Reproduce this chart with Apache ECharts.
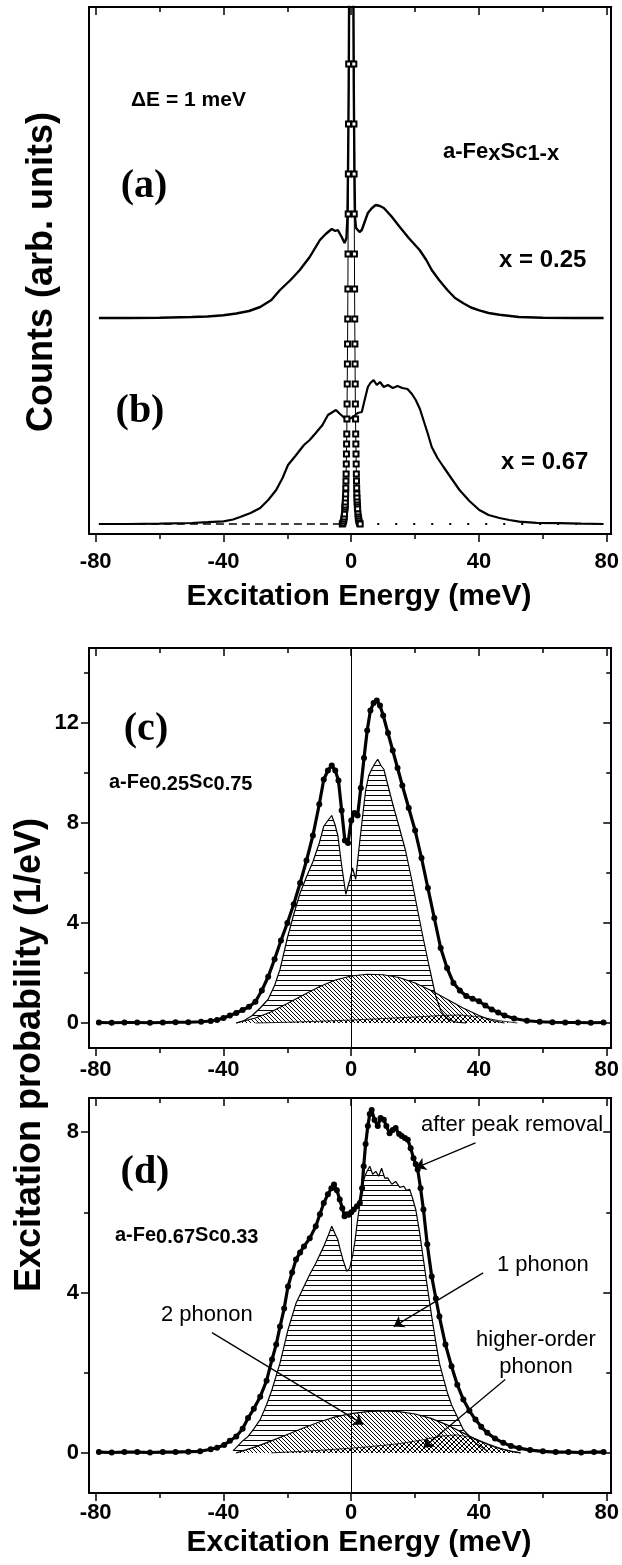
<!DOCTYPE html>
<html><head><meta charset="utf-8">
<script src="https://cdn.jsdelivr.net/npm/echarts@6/dist/echarts.min.js"></script>
<style>html,body{margin:0;padding:0;background:#fff}#c{width:622px;height:1565px}</style>
</head><body><div id="c"></div>
<script>
// ---------- tick values ----------
const xMajorTicks = [-80, -40, 0, 40, 80];
const xMinorTicks = [-60, -20, 20, 60];
const cMajorTicks = [0, 4, 8, 12];
const cMinorTicks = [2, 6, 10, 14];
const dMajorTicks = [0, 4, 8];
const dMinorTicks = [2, 6];

// ---------- panel (a)/(b): counts, arbitrary units ----------
const aE = [-79,-70,-60,-50,-45,-40,-36,-32,-28.5,-25,-22.3,-19,-16.1,-13,-9.8,-8,-6.1,-5,-4.2,-3,-2.1,-1.5,-1.2,-1,-0.8,-0.6,-0.45,0,0.45,0.6,0.8,1,1.2,1.5,2,2.6,3.3,4.2,5.2,6.5,7.7,9,10.2,12.5,15.2,18,21.4,23.5,25.2,27.5,30.1,32.5,35.1,37.5,40.1,43,46.4,52.5,60,70,79];
const aCounts = [0,0,0.003,0.01,0.015,0.027,0.045,0.07,0.11,0.18,0.28,0.38,0.48,0.61,0.78,0.84,0.89,0.87,0.88,0.81,0.75,0.8,1.0,1.5,2.3,3.6,8,14,8,3.6,2.3,1.5,1.0,0.9,0.88,0.86,0.88,0.96,1.05,1.1,1.13,1.12,1.1,1.02,0.91,0.8,0.68,0.58,0.48,0.38,0.28,0.2,0.147,0.105,0.077,0.05,0.033,0.01,0.003,0,0];
const bE = [-79,-70,-60,-50,-45,-40,-37,-34.8,-31.5,-28.5,-26,-23.5,-21.5,-19.8,-17.5,-14.8,-13,-11.1,-9,-7.3,-5.8,-4.8,-3.5,-2.1,-1,0,1,2,3.3,4.2,5.2,6,7,8,9,10.2,11.5,13,14.5,16,17.6,19,20.2,21.5,22.6,24,25.2,27,28.9,31.5,33.9,37,40.1,43,46.4,49.5,52.6,58,65,72,79];
const bCounts = [0,0,0.003,0.01,0.018,0.027,0.045,0.07,0.11,0.16,0.24,0.34,0.46,0.59,0.68,0.79,0.84,0.91,0.99,1.09,1.12,1.14,1.1,1.06,1.05,1.06,1.08,1.11,1.12,1.24,1.37,1.41,1.44,1.39,1.42,1.37,1.39,1.36,1.38,1.36,1.35,1.3,1.24,1.15,1.04,0.9,0.77,0.66,0.57,0.45,0.34,0.23,0.14,0.09,0.06,0.04,0.023,0.012,0.008,0.003,0];
// measured resolution (elastic) line, open squares
const resE = [-2.8,-2.6,-2.4,-2.3,-2.2,-2.1,-2.0,-1.95,-1.9,-1.85,-1.8,-1.75,-1.7,-1.65,-1.6,-1.55,-1.5,-1.45,-1.4,-1.35,-1.3,-1.25,-1.2,-1.15,-1.1,-1.05,-1.0,-0.95,-0.9,-0.85,-0.8,-0.75,-0.7,-0.6,-0.5,0,0.5,0.6,0.7,0.75,0.8,0.85,0.9,0.95,1.0,1.05,1.1,1.15,1.2,1.25,1.3,1.35,1.4,1.45,1.5,1.55,1.6,1.65,1.7,1.75,1.8,1.85,1.9,1.95,2.0,2.1,2.2,2.3,2.4,2.6,2.8];
const resCounts = [0,0.01,0.03,0.05,0.07,0.1,0.15,0.17,0.19,0.22,0.26,0.3,0.36,0.43,0.5,0.6,0.7,0.8,0.9,1.05,1.2,1.4,1.6,1.8,2.05,2.35,2.7,3.1,3.5,4.0,4.6,5.2,5.9,6.8,7.6,9.8,7.6,6.8,5.9,5.2,4.6,4.0,3.5,3.1,2.7,2.35,2.05,1.8,1.6,1.4,1.2,1.05,0.9,0.8,0.7,0.6,0.5,0.43,0.36,0.3,0.26,0.22,0.19,0.17,0.15,0.1,0.07,0.05,0.03,0.01,0];
const baseDashE = [-79, -2.5];
const baseDotE = [2.5, 79];
const baseLevel = [0, 0];
const offsetA = 2.06; // vertical shift of spectrum (a)

// ---------- panel (c): a-Fe0.25Sc0.75 ----------
const cDotE = [-79,-75,-71,-67,-63,-59,-55,-51,-47,-44,-42,-40,-38,-36,-34,-32,-30,-28,-26,-24,-22,-20,-18,-16,-14,-12,-10,-8.6,-7.3,-6.1,-5,-4,-3,-2,-1,0,1,2,3,4,5,6,7,8,9,10,11.5,13,14.5,16,18,20,22,24,26,28,30,32,34,36,38,40,42,44,46,48,51,55,59,63,67,71,75,79];
const cDotP = [0.02,0.01,0.02,0.02,0.01,0.02,0.03,0.03,0.05,0.08,0.12,0.2,0.3,0.4,0.52,0.65,0.85,1.3,1.85,2.55,3.3,4.0,4.75,5.6,6.5,7.5,8.75,9.74,10.1,10.3,10.1,9.7,8.5,7.3,7.2,8.1,8.4,8.3,9.4,10.6,11.7,12.5,12.8,12.9,12.7,12.3,11.6,10.9,10.2,9.5,8.6,7.7,6.6,5.4,4.2,3.0,2.2,1.6,1.3,1.08,0.97,0.87,0.7,0.54,0.42,0.3,0.18,0.09,0.05,0.03,0.02,0.02,0.01,0.02];
const c1E = [-36,-33.5,-31,-28.5,-26,-24,-22.3,-20,-18,-16,-14,-12,-10,-8.6,-7.3,-6.1,-5,-4.2,-3,-1.7,-0.4,0.4,1.4,2.7,3.5,4.5,5.5,6.4,7.5,8.3,9.3,10.2,11.5,12.7,14,15.2,17,18.9,20.8,22.6,24.5,26.4,28,29.5,31,33,36];
const c1P = [0,0.1,0.3,0.6,0.95,1.5,2.14,3.4,4.35,5.2,5.85,6.45,7.2,7.87,8.1,8.3,7.9,7.5,6.3,5.15,5.75,6.2,5.75,7.3,8.2,9.3,9.9,10.15,10.4,10.55,10.3,10.15,9.5,8.9,8.3,7.75,6.9,5.75,4.5,3.35,2.2,1.1,0.5,0.25,0.1,0.03,0];
const c2E = [-36,-30,-25,-20,-15,-10,-5,0,5,10,15,20,25,30,35,40,44,48];
const c2P = [0,0.2,0.45,0.78,1.12,1.45,1.72,1.88,1.95,1.93,1.82,1.6,1.3,0.95,0.6,0.3,0.1,0];
const c3E = [-30,-20,-10,0,10,20,28,34,40,46,52];
const c3P = [0,0.03,0.07,0.12,0.18,0.24,0.3,0.32,0.25,0.1,0];

// ---------- panel (d): a-Fe0.67Sc0.33 ----------
const dDotE = [-79,-75,-71,-67,-63,-59,-55,-51,-47.3,-44,-42,-39.8,-38,-36,-34,-32.3,-30.5,-28.5,-26.5,-24.8,-23.5,-22.3,-21,-19.8,-18.5,-17.3,-16,-14.8,-13,-11.1,-9.8,-8.6,-7.3,-6.2,-5.4,-4.5,-3.6,-2.8,-2.1,-1.4,-0.8,0,0.8,1.8,2.7,3.4,3.9,4.5,5.2,5.8,6.4,7.3,8.3,9.2,10.2,11,12,13,13.9,15,15.8,16.8,17.7,18.6,19.5,20.2,20.8,21.7,22.6,23.8,25.2,26.5,27.6,29.5,31.4,33.2,35.1,37,38.9,40.7,42.6,45,47.6,50,52.6,56,60,64,68,72,76,79];
const dDotP = [0.02,0.01,0.02,0.02,0.01,0.02,0.02,0.03,0.04,0.09,0.13,0.2,0.3,0.41,0.6,0.87,1.1,1.4,1.8,2.33,2.7,3.15,3.6,4.15,4.5,4.82,5.0,5.15,5.35,5.65,5.95,6.23,6.45,6.6,6.69,6.55,6.32,6.1,5.9,5.95,5.94,6.0,6.07,6.15,6.23,6.6,7.15,7.7,8.15,8.45,8.55,8.3,8.15,8.35,8.31,8.15,7.97,8.05,8.1,7.95,7.9,7.85,7.81,7.6,7.35,7.2,7.07,6.6,6.07,5.2,4.4,3.85,3.4,2.7,2.16,1.7,1.33,1.05,0.83,0.65,0.5,0.36,0.25,0.17,0.12,0.07,0.04,0.02,0.02,0.01,0.02,0.02];
const d1E = [-37,-34,-32.3,-30.5,-28.5,-26.5,-24.8,-22.3,-19.8,-17.3,-14.8,-13,-11.1,-8.6,-7.3,-6.1,-5,-4.2,-3.4,-2.6,-1.4,-0.5,0.5,1.2,2,3,3.9,4.8,5.8,6.7,7.7,8.6,9.5,10.5,11.4,12.7,13.9,15.2,16.4,17.3,18.3,19.2,20.2,21.4,22.6,23.9,25.2,26.4,27.6,28.9,30.1,31.4,32.6,35.1,38.9,42.6];
const d1P = [0.05,0.3,0.41,0.6,0.83,1.2,1.58,2.24,3.07,3.73,4.15,4.45,4.73,5.15,5.4,5.65,5.45,5.32,5.05,4.82,4.53,4.6,4.95,5.3,5.82,6.35,6.82,7.0,7.15,6.95,7.02,6.9,7.1,6.85,6.86,6.7,6.77,6.62,6.65,6.55,6.57,6.35,6.07,5.5,4.82,4.1,3.4,2.8,2.24,1.85,1.5,1.2,1.0,0.58,0.25,0.05];
const d2E = [-36,-30,-25,-20,-15,-10,-5,0,5,10,15,20,25,30,35,40,45,50,53];
const d2P = [0,0.15,0.3,0.46,0.62,0.77,0.9,0.98,1.03,1.05,1.03,0.97,0.86,0.7,0.5,0.3,0.14,0.04,0];
const d3E = [-25,-15,-5,5,15,22,28,33,38,43,48,53];
const d3P = [0,0.04,0.09,0.15,0.23,0.32,0.42,0.45,0.38,0.22,0.08,0];
// annotation arrows in panel (d): [start, end] in (meV, 1/eV)
const arrowsD = [
  [[38.9, 7.73], [20.2, 7.11]],
  [[41.3, 4.49], [13.3, 3.15]],
  [[-43.6, 3.0], [3.8, 0.71]],
  [[48.2, 1.83], [22.6, 0.13]]
];

// ---------- styling ----------
const SANS = "'Liberation Sans', Arial, Helvetica, sans-serif";
const SERIF = "'Liberation Serif', 'Times New Roman', serif";
const BLACK = '#000';
const FRAME = 2;
const xMin = -82.1, xMax = 81.4;

function pattern(w, h, bg, draw) {
  const cv = document.createElement('canvas');
  cv.width = w; cv.height = h;
  const ctx = cv.getContext('2d');
  if (bg) { ctx.fillStyle = bg; ctx.fillRect(0, 0, w, h); }
  ctx.fillStyle = '#000';
  draw(ctx);
  return { image: cv, repeat: 'repeat' };
}
const hLines = pattern(4, 5, null, c => c.fillRect(0, 0, 4, 1));
const diagBack = pattern(4, 4, '#fff', c => { for (let i = 0; i < 4; i++) c.fillRect(i, i, 1, 1); });
const diagFwd = pattern(6, 6, null, c => { for (let i = 0; i < 6; i++) c.fillRect(5 - i, i, 1, 1); });

const grids = [
  { left: 89, top: 7, width: 527, height: 527 },
  { left: 89, top: 648, width: 527, height: 400 },
  { left: 89, top: 1098, width: 527, height: 395 }
];
const labelMargins = [17, 11, 9];

const xAxis = [];
grids.forEach((g, gi) => {
  const base = { type: 'value', gridIndex: gi, min: xMin, max: xMax, splitLine: { show: false } };
  xAxis.push(Object.assign({}, base, {
    position: 'bottom',
    axisLine: { show: true, onZero: false, lineStyle: { color: BLACK, width: FRAME } },
    axisTick: { show: true, inside: false, length: 8, customValues: xMajorTicks, lineStyle: { color: BLACK, width: 1.5 } },
    axisLabel: { show: true, customValues: xMajorTicks, margin: labelMargins[gi], color: BLACK, fontFamily: SANS, fontWeight: 'bold', fontSize: 22 }
  }));
  xAxis.push(Object.assign({}, base, {
    position: 'bottom',
    axisLine: { show: false, onZero: false },
    axisTick: { show: true, inside: false, length: 5, customValues: xMinorTicks, lineStyle: { color: BLACK, width: 1.5 } },
    axisLabel: { show: false }
  }));
  xAxis.push(Object.assign({}, base, {
    position: 'top',
    axisLine: { show: true, onZero: false, lineStyle: { color: BLACK, width: FRAME } },
    axisTick: { show: true, inside: true, length: 8, customValues: xMajorTicks, lineStyle: { color: BLACK, width: 1.5 } },
    axisLabel: { show: false }
  }));
  xAxis.push(Object.assign({}, base, {
    position: 'top',
    axisLine: { show: false, onZero: false },
    axisTick: { show: true, inside: true, length: 5, customValues: xMinorTicks, lineStyle: { color: BLACK, width: 1.5 } },
    axisLabel: { show: false }
  }));
});

const yRanges = [[-0.1, 5.17], [-1, 15], [-1, 8.85]];
const yMajor = [null, cMajorTicks, dMajorTicks];
const yMinor = [null, cMinorTicks, dMinorTicks];
const yAxis = [];
const yIndex = [];
grids.forEach((g, gi) => {
  const base = { type: 'value', gridIndex: gi, min: yRanges[gi][0], max: yRanges[gi][1], splitLine: { show: false } };
  yIndex.push(yAxis.length);
  if (gi === 0) {
    yAxis.push(Object.assign({}, base, { position: 'left', axisLine: { show: true, onZero: false, lineStyle: { color: BLACK, width: FRAME } }, axisTick: { show: false }, axisLabel: { show: false } }));
    yAxis.push(Object.assign({}, base, { position: 'right', axisLine: { show: true, onZero: false, lineStyle: { color: BLACK, width: FRAME } }, axisTick: { show: false }, axisLabel: { show: false } }));
    return;
  }
  yAxis.push(Object.assign({}, base, {
    position: 'left',
    axisLine: { show: true, onZero: false, lineStyle: { color: BLACK, width: FRAME } },
    axisTick: { show: true, inside: false, length: 8, customValues: yMajor[gi], lineStyle: { color: BLACK, width: 1.5 } },
    axisLabel: { show: true, customValues: yMajor[gi], margin: 10, color: BLACK, fontFamily: SANS, fontWeight: 'bold', fontSize: 22 }
  }));
  yAxis.push(Object.assign({}, base, {
    position: 'left',
    axisLine: { show: false, onZero: false },
    axisTick: { show: true, inside: false, length: 5, customValues: yMinor[gi], lineStyle: { color: BLACK, width: 1.5 } },
    axisLabel: { show: false }
  }));
  yAxis.push(Object.assign({}, base, {
    position: 'right',
    axisLine: { show: true, onZero: false, lineStyle: { color: BLACK, width: FRAME } },
    axisTick: { show: true, inside: true, length: 8, customValues: yMajor[gi], lineStyle: { color: BLACK, width: 1.5 } },
    axisLabel: { show: false }
  }));
  yAxis.push(Object.assign({}, base, {
    position: 'right',
    axisLine: { show: false, onZero: false },
    axisTick: { show: true, inside: true, length: 5, customValues: yMinor[gi], lineStyle: { color: BLACK, width: 1.5 } },
    axisLabel: { show: false }
  }));
});

function pairs(xs, ys, off) { off = off || 0; return xs.map((x, i) => [x, ys[i] + off]); }
function line(gi, xs, ys, opt) {
  return Object.assign({
    type: 'line', xAxisIndex: gi * 4, yAxisIndex: yIndex[gi], data: pairs(xs, ys, opt && opt.off),
    showSymbol: false, symbol: 'none', silent: true, animation: false,
    lineStyle: { color: BLACK, width: 1.2 }, itemStyle: { color: BLACK }
  }, opt || {});
}
const vLine = { silent: true, animation: false, symbol: ['none', 'none'], label: { show: false },
  lineStyle: { color: BLACK, width: 1, type: 'solid' }, data: [{ xAxis: 0 }] };
const arrowLines = { silent: true, animation: false, symbol: ['none', 'arrow'], symbolSize: 10, label: { show: false },
  lineStyle: { color: BLACK, width: 1.3, type: 'solid' },
  data: arrowsD.map(p => [{ coord: p[0] }, { coord: p[1] }]) };

const dotStyle = { symbol: 'circle', showSymbol: true, symbolSize: 6, lineStyle: { color: BLACK, width: 3.2 } };

const series = [
  // panel (a)/(b)
  line(0, baseDashE, baseLevel, { lineStyle: { color: BLACK, width: 1.5, type: [8, 5] } }),
  line(0, baseDotE, baseLevel, { lineStyle: { color: BLACK, width: 1.8, type: [2, 16] } }),
  line(0, bE, bCounts, { lineStyle: { color: BLACK, width: 2.2 } }),
  line(0, resE, resCounts, { symbol: 'emptyRect', showSymbol: true, symbolSize: 5, lineStyle: { color: BLACK, width: 1 }, itemStyle: { color: BLACK, borderWidth: 1 } }),
  line(0, aE, aCounts, { off: offsetA, lineStyle: { color: BLACK, width: 2.4 } }),
  // panel (c)
  line(1, c1E, c1P, { areaStyle: { color: hLines, opacity: 1 }, markLine: vLine }),
  line(1, c2E, c2P, { areaStyle: { color: diagBack, opacity: 1 } }),
  line(1, c3E, c3P, { areaStyle: { color: diagFwd, opacity: 1 }, lineStyle: { color: BLACK, width: 0.8 } }),
  line(1, cDotE, cDotP, dotStyle),
  // panel (d)
  line(2, d1E, d1P, { areaStyle: { color: hLines, opacity: 1 }, markLine: vLine }),
  line(2, d2E, d2P, { areaStyle: { color: diagBack, opacity: 1 } }),
  line(2, d3E, d3P, { areaStyle: { color: diagFwd, opacity: 1 }, lineStyle: { color: BLACK, width: 0.8 } }),
  line(2, dDotE, dDotP, Object.assign({ markLine: arrowLines }, dotStyle))
];

function txt(x, y, text, font) {
  return { type: 'text', x: x, y: y, silent: true,
    style: { text: text, font: font, fill: BLACK, align: 'left', textAlign: 'left', verticalAlign: 'middle', textVerticalAlign: 'middle' } };
}
function subText(x, y, parts, size) {
  const rich = {
    n: { font: `bold ${size}px ${SANS}`, fill: BLACK, lineHeight: size + 2, verticalAlign: 'top' },
    s: { font: `bold ${size}px ${SANS}`, fill: BLACK, lineHeight: size + 2, verticalAlign: 'bottom', padding: [7, 0, 0, 0] }
  };
  const text = parts.map((p, i) => `{${i % 2 ? 's' : 'n'}|${p}}`).join('');
  return { type: 'text', x: x, y: y, silent: true,
    style: { text: text, rich: rich, align: 'left', textAlign: 'left', verticalAlign: 'middle', textVerticalAlign: 'middle' } };
}
const bold = s => `bold ${s}px ${SANS}`;
const reg = s => `${s}px ${SANS}`;
const serifB = s => `bold ${s}px ${SERIF}`;
function rot(x, y, text, font) {
  return { type: 'text', x: x, y: y, rotation: Math.PI / 2, silent: true,
    style: { text: text, font: font, fill: BLACK, align: 'center', textAlign: 'center', verticalAlign: 'middle', textVerticalAlign: 'middle' } };
}
function ctr(x, y, text, font) {
  return { type: 'text', x: x, y: y, silent: true,
    style: { text: text, font: font, fill: BLACK, align: 'center', textAlign: 'center', verticalAlign: 'middle', textVerticalAlign: 'middle' } };
}

const graphic = [
  rot(42, 272, 'Counts (arb. units)', bold(36)),
  rot(30, 1055, 'Excitation probability (1/eV)', bold(36)),
  ctr(359, 597, 'Excitation Energy (meV)', bold(30)),
  ctr(359, 1543, 'Excitation Energy (meV)', bold(30)),
  txt(131, 100, 'ΔE = 1 meV', bold(21)),
  subText(443, 153, ['a-Fe', 'x', 'Sc', '1-x'], 22),
  ctr(144, 187, '(a)', serifB(40)),
  ctr(140, 412, '(b)', serifB(40)),
  txt(499, 260, 'x = 0.25', bold(24)),
  txt(501, 462, 'x = 0.67', bold(24)),
  ctr(146, 730, '(c)', serifB(40)),
  subText(109, 783, ['a-Fe', '0.25', 'Sc', '0.75'], 20),
  ctr(145, 1173, '(d)', serifB(40)),
  subText(115, 1236, ['a-Fe', '0.67', 'Sc', '0.33'], 20),
  txt(421, 1125, 'after peak removal', reg(22)),
  txt(497, 1265, '1 phonon', reg(22)),
  txt(161, 1315, '2 phonon', reg(22)),
  { type: 'text', x: 536, y: 1353, silent: true,
    style: { text: 'higher-order\nphonon', font: reg(22), lineHeight: 27, fill: BLACK, align: 'center', textAlign: 'center', verticalAlign: 'middle', textVerticalAlign: 'middle' } }
];

const chart = echarts.init(document.getElementById('c'), null, { renderer: 'canvas' });
chart.setOption({
  backgroundColor: '#fff',
  animation: false,
  grid: grids,
  xAxis: xAxis,
  yAxis: yAxis,
  series: series,
  graphic: graphic
});
</script></body></html>
